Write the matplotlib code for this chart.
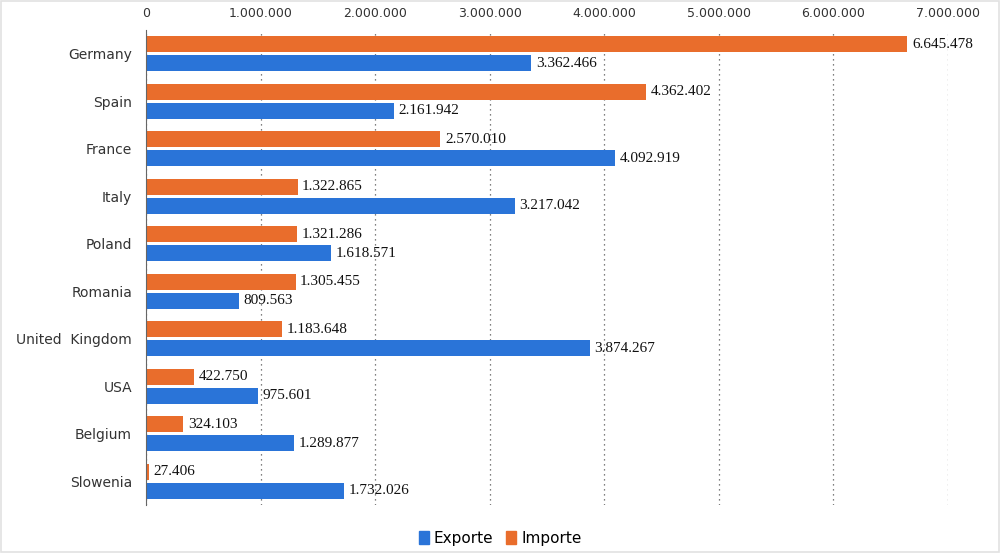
import matplotlib.pyplot as plt
from matplotlib.ticker import FuncFormatter
from matplotlib.patches import Patch
import numpy as np

countries = ['Germany', 'Spain', 'France', 'Italy', 'Poland', 'Romania',
             'United  Kingdom', 'USA', 'Belgium', 'Slowenia']
importe = [6645478, 4362402, 2570010, 1322865, 1321286, 1305455,
           1183648, 422750, 324103, 27406]
exporte = [3362466, 2161942, 4092919, 3217042, 1618571, 809563,
           3874267, 975601, 1289877, 1732026]

c_exp = '#2a74d8'
c_imp = '#e96d2c'


def fmt(v):
    return f'{int(v):,}'.replace(',', '.')


fig = plt.figure(figsize=(10, 5.53), dpi=100)
ax = fig.add_axes([0.146, 0.087, 0.802, 0.859])

y = np.arange(len(countries))
h = 0.34
ax.barh(y - 0.2, importe, height=h, color=c_imp)
ax.barh(y + 0.2, exporte, height=h, color=c_exp)

for yi, v in zip(y - 0.2, importe):
    ax.text(v + 40000, yi, fmt(v), va='center', ha='left', fontsize=11,
            family='Liberation Serif', color='#111111', clip_on=False)
for yi, v in zip(y + 0.2, exporte):
    ax.text(v + 40000, yi, fmt(v), va='center', ha='left', fontsize=11,
            family='Liberation Serif', color='#111111', clip_on=False)

ax.set_xlim(0, 7000000)
ax.set_ylim(len(countries) - 0.5, -0.5)
ax.set_yticks(y)
ax.set_yticklabels(countries, fontsize=10, color='#333333')
ax.set_xticks(np.arange(0, 7000001, 1000000))
ax.xaxis.set_major_formatter(FuncFormatter(lambda v, p: fmt(v)))
ax.xaxis.tick_top()
ax.tick_params(axis='x', length=0, labelsize=9, colors='#333333', pad=7)
ax.tick_params(axis='y', length=0, pad=10)
ax.grid(axis='x', linestyle=(0, (1, 3)), color='#555555', linewidth=0.9)
ax.set_axisbelow(True)
for s in ['top', 'right', 'bottom']:
    ax.spines[s].set_visible(False)
ax.spines['left'].set_color('#666666')

handles = [Patch(color=c_exp, label='Exporte'), Patch(color=c_imp, label='Importe')]
fig.legend(handles=handles, loc='center', bbox_to_anchor=(0.5, 0.027), ncol=2,
           frameon=False, fontsize=11, handlelength=0.7, handleheight=0.9,
           handletextpad=0.3, columnspacing=0.8)

fig.patches.append(plt.Rectangle((0.001, 0.001), 0.998, 0.997, transform=fig.transFigure,
                                 fill=False, edgecolor='#e2e2e2', linewidth=1.2))

fig.savefig('out.png', dpi=100)
